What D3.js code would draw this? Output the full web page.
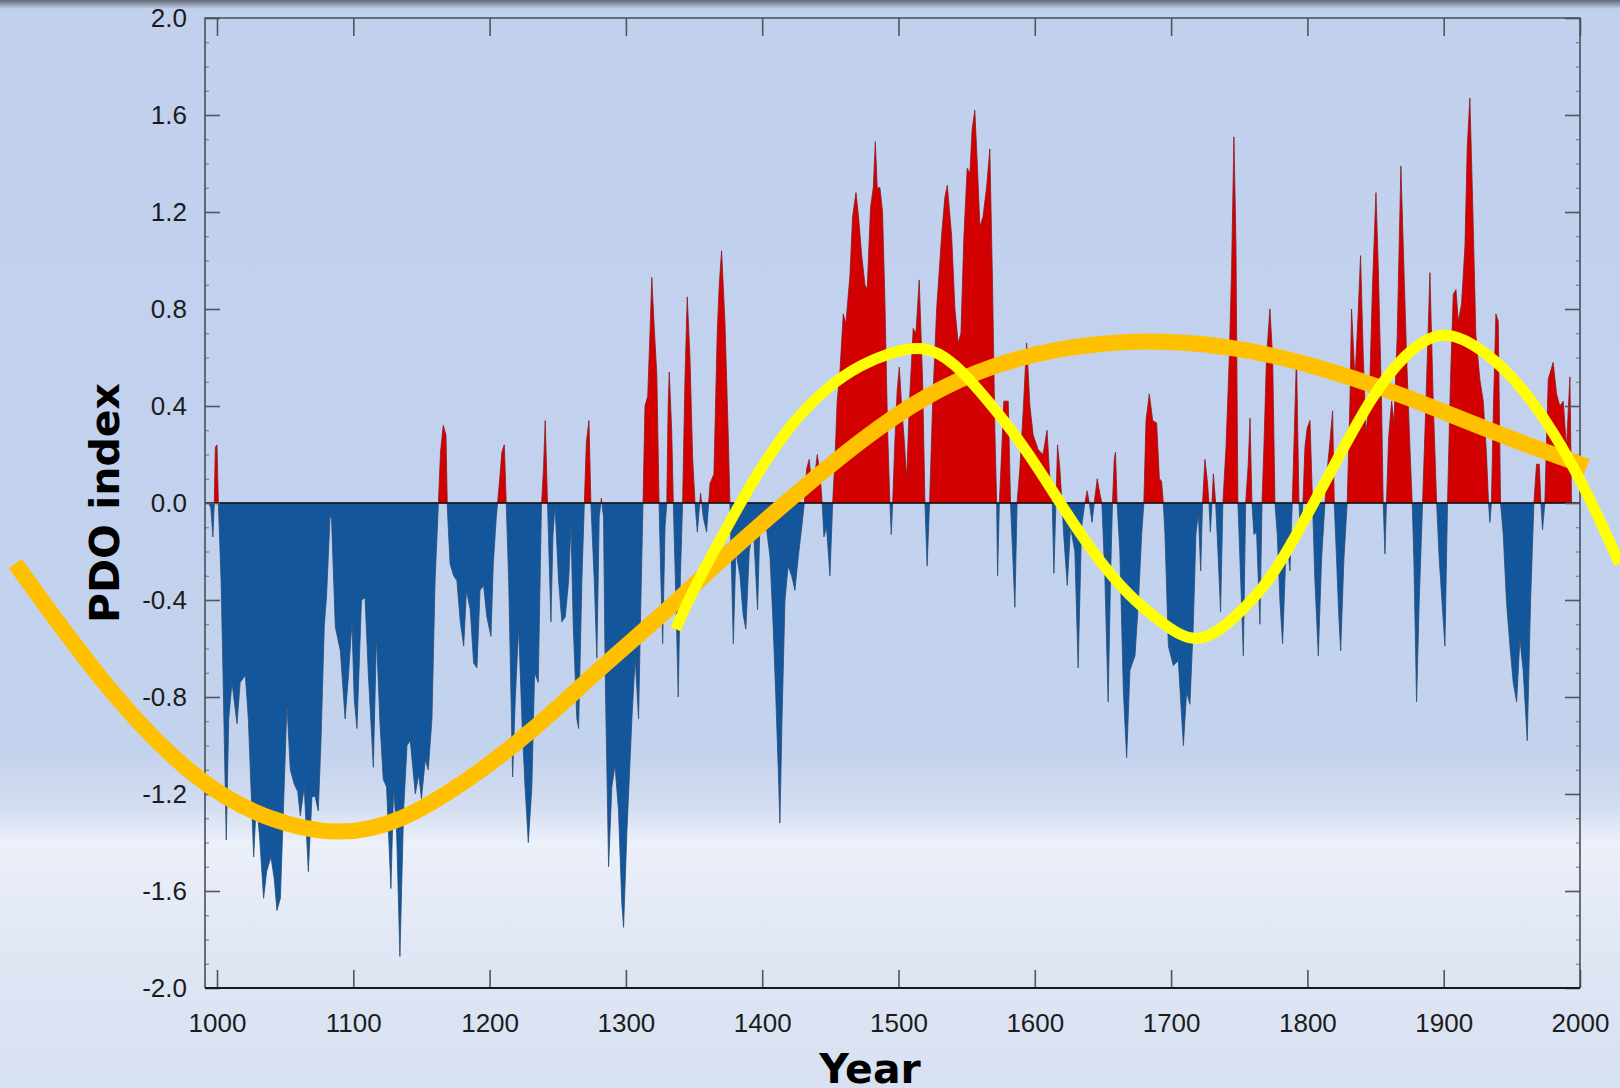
<!DOCTYPE html>
<html>
<head>
<meta charset="utf-8">
<script src="https://cdnjs.cloudflare.com/ajax/libs/d3/7.8.5/d3.min.js"></script>
<style>
body { margin: 0; background: #c2d1ed; }
svg { display: block; }
</style>
</head>
<body>
<div id="chart"></div>
<script>
// PDO reconstruction (year, index)
var years = [
  994, 995.5, 997, 998, 998.8, 1000, 1001, 1003, 1004.4, 1006.8, 1008.6, 1011, 1014.7, 1017, 1020.8,
  1023, 1026.9, 1028.9, 1031.3, 1034.2, 1036.4, 1039.6, 1042, 1044, 1046.5, 1048.7, 1051.3, 1053.8,
  1056.7, 1059.2, 1061.1, 1064, 1067, 1069.7, 1072, 1074.3, 1076.3, 1078.7, 1080.4, 1082.9, 1084,
  1086.8, 1090.5, 1094, 1096.6, 1099, 1100.7, 1102.7, 1106, 1108.6, 1111, 1114.7, 1117, 1119.6, 1122,
  1124.4, 1127.6, 1129.6, 1131.8, 1134.2, 1136.9, 1139.4, 1141.8, 1145.5, 1148, 1150, 1152.8, 1155,
  1157.7, 1160, 1162.3, 1164, 1166, 1168, 1169, 1171, 1173.6, 1176, 1178.5, 1181, 1183, 1185.8, 1188.3,
  1190.7, 1193, 1195.6, 1198, 1201, 1202.7, 1204.9, 1207.3, 1209, 1210.8, 1212.2, 1214, 1216.9, 1218.8,
  1221.3, 1223.7, 1226, 1228.4, 1231, 1233, 1235.7, 1238, 1239.6, 1240.8, 1242.5, 1245, 1246.5, 1248,
  1250.6, 1253, 1255.5, 1258, 1259.7, 1261.4, 1264, 1265.3, 1267.7, 1269.4, 1271, 1272.9, 1274.3,
  1276.8, 1278.7, 1280.4, 1282, 1283.6, 1284.8, 1287.3, 1289.7, 1292, 1294.6, 1297, 1298.3, 1300.7,
  1304.4, 1306.8, 1309.3, 1311, 1312.5, 1314, 1316, 1317.8, 1319, 1320.8, 1322.7, 1324.4, 1325.6,
  1327, 1328.7, 1330, 1331, 1331.8, 1333.6, 1334.8, 1336.7, 1338.4, 1340, 1341.6, 1343.3, 1345, 1347,
  1349, 1350.7, 1352.4, 1354.8, 1356.8, 1359.2, 1360.7, 1361.7, 1364.6, 1367, 1368.5, 1370.2, 1372.7,
  1375, 1376.3, 1377.6, 1378.8, 1380.7, 1383.7, 1386, 1388, 1390.5, 1393.5, 1396.6, 1398.3, 1400.8,
  1403, 1405.7, 1408, 1410, 1411.8, 1413, 1414.5, 1416.7, 1419, 1421.6, 1424, 1426.5, 1429, 1430.9,
  1432.6, 1434.5, 1436.5, 1438.7, 1440.4, 1442.4, 1444, 1445.3, 1447.2, 1449.7, 1451.7, 1453.4, 1455,
  1457, 1459.5, 1461.4, 1464.4, 1466.3, 1468.8, 1470.7, 1473, 1475.4, 1477, 1479.5, 1481.5, 1483,
  1484.4, 1486.4, 1488.3, 1490, 1492, 1493.7, 1494.7, 1495.7, 1497.4, 1499, 1500.6, 1502.3, 1504.2,
  1506, 1507.9, 1510.8, 1512.8, 1515.2, 1517.7, 1519.4, 1521, 1522.8, 1525, 1528, 1531.6, 1534,
  1535.8, 1539, 1541.4, 1543.8, 1545.8, 1548, 1550.4, 1552.4, 1554, 1556, 1557.8, 1559.7, 1562, 1564.6,
  1567, 1569, 1570.7, 1572, 1572.7, 1574, 1575.6, 1577.3, 1580.5, 1582.2, 1583.7, 1585.4, 1587, 1589,
  1591.5, 1594, 1596.4, 1598.8, 1602.5, 1606, 1609, 1611, 1612.8, 1614, 1615.5, 1616.7, 1618.4, 1619.9,
  1621.3, 1623.8, 1626.2, 1629.4, 1631.8, 1634.3, 1636.7, 1638.4, 1640, 1642, 1643.6, 1645.8, 1647.7,
  1649.2, 1651.4, 1653.8, 1655.6, 1657, 1658.3, 1659.2, 1660.4, 1662.4, 1665, 1667.4, 1669.8, 1673.5,
  1676, 1678.4, 1680, 1681.6, 1684, 1686.5, 1689.4, 1691.4, 1693, 1694.3, 1695.5, 1698, 1701.6, 1705.3,
  1709, 1711.4, 1713.8, 1716.3, 1718.2, 1720, 1721.7, 1723.1, 1724.8, 1726.6, 1727.8, 1728.8, 1730,
  1731, 1732.7, 1734.6, 1736.3, 1738, 1740.3, 1742.7, 1744.4, 1746.1, 1747.6, 1749, 1750.5, 1753,
  1754.7, 1756.6, 1757.9, 1759.3, 1760.8, 1762.7, 1765.2, 1766.7, 1768.1, 1770, 1772.5, 1774.5, 1776.2,
  1777.9, 1779.9, 1781.8, 1784.7, 1787.2, 1788.9, 1790.6, 1792, 1793.8, 1795, 1796.7, 1798.2, 1799.9,
  1801.9, 1803.8, 1805.5, 1808, 1810.4, 1812.9, 1814.6, 1816.5, 1818.5, 1819.7, 1821.4, 1822.9, 1824.4,
  1826.8, 1829.2, 1831.2, 1832.4, 1834.9, 1837.3, 1839, 1841, 1843, 1845.4, 1847.8, 1850.3, 1852,
  1854.4, 1855.6, 1856.9, 1858, 1859.6, 1861.8, 1863.5, 1865.9, 1868.6, 1870.8, 1872.8, 1875.2, 1876.9,
  1878.1, 1880.1, 1882, 1884.5, 1887, 1889.9, 1892.3, 1894.8, 1896.7, 1900.9, 1902.8, 1905, 1907, 1909,
  1910.7, 1913.1, 1915.6, 1917.3, 1919.2, 1921.2, 1923.6, 1926.5, 1929, 1931.4, 1932.9, 1933.9, 1935,
  1936.6, 1938.3, 1940, 1941.7, 1943.7, 1946.1, 1948.6, 1951, 1953.5, 1955.9, 1958.3, 1961.3, 1963.7,
  1966.2, 1968.1, 1970.1, 1971.3, 1972.5, 1974.2, 1976.7, 1980.3, 1982.8, 1985.2, 1987.7, 1990.1,
  1992.6, 1993.8
];
var pdo = [
  0, -0.02, -0.14, 0, 0.23, 0.24, 0, -0.32, -0.70, -1.39, -0.89, -0.74, -0.91, -0.74, -0.71,
  -0.89, -1.46, -1.23, -1.38, -1.63, -1.52, -1.46, -1.55, -1.68, -1.63, -1.27, -0.83, -1.10,
  -1.16, -1.19, -1.29, -1.17, -1.52, -1.21, -1.21, -1.27, -0.98, -0.51, -0.38, -0.06, -0.06,
  -0.51, -0.61, -0.89, -0.70, -0.49, -0.81, -0.93, -0.40, -0.39, -0.70, -1.09, -0.55, -0.91, -1.14,
  -1.17, -1.59, -1.17, -1.36, -1.87, -1.27, -1.00, -0.98, -1.20, -1.12, -1.22, -1.06, -1.10,
  -0.89, -0.32, -0.02, 0.21, 0.32, 0.28, -0.02, -0.25, -0.30, -0.32, -0.49, -0.59, -0.36, -0.44, -0.66,
  -0.68, -0.36, -0.34, -0.47, -0.55, -0.25, -0.06, 0.09, 0.21, 0.24, 0, -0.32, -1.13, -0.81,
  -0.51, -0.89, -1.17, -1.40, -1.17, -0.70, -0.74, -0.02, 0.15, 0.34, 0, -0.49, -0.13, -0.01,
  -0.32, -0.49, -0.47, -0.32, -0.09, -0.51, -0.89, -0.93, -0.32, -0.02, 0.25, 0.34, 0,
  -0.32, -0.64, -0.06, 0.02, -0.06, -0.70, -1.50, -1.17, -1.08, -1.27, -1.65, -1.75, -1.36,
  -0.89, -0.64, -0.89, -0.40, -0.02, 0.40, 0.44, 0.72, 0.93, 0.72, 0.53, -0.02, -0.30,
  -0.58, -0.10, 0, 0.40, 0.54, 0.30, 0, -0.40, -0.80, -0.30, 0, 0.50, 0.85, 0.60,
  0.18, 0, -0.12, 0.04, -0.06, -0.12, 0, 0.08, 0.12, 0.70, 0.90, 1.04, 0.74,
  0.30, 0, -0.30, -0.58, -0.20, -0.30, -0.46, -0.52, -0.20, -0.10, -0.44, -0.10, -0.04,
  -0.10, -0.22, -0.50, -0.80, -1.10, -1.32, -0.90, -0.40, -0.26, -0.30, -0.36, -0.22, -0.10, 0,
  0.14, 0.18, 0.06, 0.12, 0.20, 0.12, 0, -0.14, -0.10, -0.30, 0, 0.18, 0.42,
  0.54, 0.78, 0.74, 0.94, 1.18, 1.28, 1.18, 1.02, 0.90, 0.88, 1.22, 1.30, 1.49,
  1.30, 1.30, 1.20, 0.84, 0.30, 0, -0.13, 0, 0.26, 0.46, 0.56, 0.40, 0.26,
  0.10, 0.40, 0.72, 0.70, 0.92, 0.50, 0, -0.26, 0, 0.40, 0.80, 1.10, 1.26,
  1.31, 1.10, 0.80, 0.66, 0.70, 1.10, 1.38, 1.36, 1.54, 1.62, 1.40, 1.14, 1.18, 1.30,
  1.46, 0.90, 0.30, 0, -0.30, 0, 0.20, 0.42, 0.42, 0, -0.20, -0.43, 0, 0.14,
  0.38, 0.66, 0.40, 0.28, 0.22, 0.20, 0.30, 0.10, 0, -0.29, 0, 0.24, 0.14, 0,
  -0.14, -0.34, -0.10, -0.20, -0.68, -0.10, 0, 0.05, 0, -0.08, 0, 0.10, 0.04,
  0, -0.30, -0.82, -0.30, 0, 0.18, 0.21, 0, -0.20, -0.78, -1.05, -0.69, -0.63,
  -0.41, -0.13, 0, 0.34, 0.45, 0.34, 0.33, 0.10, 0.09, 0, -0.13, -0.59, -0.67, -0.65,
  -1.00, -0.78, -0.83, -0.50, -0.13, -0.04, -0.28, 0, 0.18, 0.09, 0, -0.12, 0,
  0.12, 0, -0.23, -0.45, 0, 0.23, 0.60, 0.97, 1.51, 1.06, 0, -0.23, -0.63,
  0, 0.16, 0.35, 0, -0.13, -0.12, -0.50, 0, 0.23, 0.60, 0.80, 0.60, 0,
  -0.13, -0.41, -0.58, -0.13, -0.28, 0, 0.33, 0.61, 0, -0.13, 0, 0.23, 0.31,
  0.34, 0, -0.32, -0.63, -0.23, 0, 0.14, 0.25, 0.38, 0, -0.23, -0.45, -0.61,
  -0.23, 0, 0.42, 0.80, 0.51, 0.79, 1.02, 0.60, 0.29, 0.42, 0.90, 1.28, 0.97,
  0.42, 0, -0.21, 0, 0.27, 0.42, 0.33, 0.69, 1.39, 0.97, 0.60, 0.23, 0,
  -0.23, -0.82, -0.41, 0, 0.42, 0.95, 0.42, 0, -0.23, -0.59, 0, 0.51, 0.86, 0.88,
  0.75, 0.82, 1.06, 1.47, 1.67, 1.25, 0.69, 0.51, 0.42, 0.20, 0, -0.08, 0,
  0.42, 0.78, 0.75, 0, -0.13, -0.41, -0.59, -0.74, -0.82, -0.56, -0.69, -0.98, -0.41,
  0, 0.16, 0.16, 0, -0.11, 0, 0.51, 0.58, 0.45, 0.40, 0.42, 0.23,
  0.52, 0
];

// hand-drawn overlay curves (year, index), they run past the frame
var trendYears = [852, 924, 987, 1037, 1090, 1134, 1183, 1232, 1281, 1325, 1374, 1423,
  1472, 1521, 1569, 1618, 1670, 1712, 1760, 1809, 1858, 1907, 1956, 2005];
var trendValues = [-0.25, -0.81, -1.16, -1.31, -1.375, -1.32, -1.15, -0.94, -0.68, -0.47,
  -0.21, 0.03, 0.26, 0.45, 0.57, 0.64, 0.67, 0.665, 0.63, 0.56, 0.47, 0.36, 0.25, 0.15];
var cycleYears = [1336.5, 1349, 1374, 1398, 1423, 1448, 1472, 1496, 1518, 1540, 1569, 1594, 1618.5,
  1643, 1670, 1690, 1719, 1748, 1773, 1797, 1822, 1846, 1870, 1899.5, 1932, 1956, 1980, 2005, 2029];
var cycleValues = [-0.52, -0.36, -0.10, 0.14, 0.34, 0.48, 0.57, 0.625, 0.65, 0.59, 0.40, 0.22, 0.0,
  -0.21, -0.39, -0.48, -0.60, -0.47, -0.32, -0.08, 0.18, 0.43, 0.61, 0.73, 0.62, 0.49, 0.30, 0.05, -0.25];

var yearTicks = [1000, 1100, 1200, 1300, 1400, 1500, 1600, 1700, 1800, 1900, 2000];
var indexTicks = [2.0, 1.6, 1.2, 0.8, 0.4, 0.0, -0.4, -0.8, -1.2, -1.6, -2.0];
var indexMinor = d3.range(-20, 21).map(function (i) { return i / 10; });

var W = 1620, H = 1088;
var plotL = 205, plotR = 1580, plotT = 18, plotB = 988;

var x = d3.scaleLinear().domain([991.2, 2000]).range([plotL, plotR]);
var y = d3.scaleLinear().domain([-2, 2]).range([plotB, plotT]);

var svg = d3.select("#chart").append("svg")
    .attr("width", W)
    .attr("height", H);

var defs = svg.append("defs");

var bg = defs.append("linearGradient")
    .attr("id", "bg")
    .attr("gradientUnits", "userSpaceOnUse")
    .attr("x1", 0).attr("y1", 0).attr("x2", 0).attr("y2", H);
[[0, "#c1d0ed"], [0.69, "#c3d2ed"], [0.74, "#d3ddf1"], [0.775, "#ebf0f9"],
 [0.80, "#e8edf8"], [0.88, "#dfe6f4"], [1, "#d8e1f2"]].forEach(function (s) {
    bg.append("stop").attr("offset", s[0]).attr("stop-color", s[1]);
});

var shade = defs.append("linearGradient")
    .attr("id", "shade")
    .attr("x1", 0).attr("y1", 0).attr("x2", 0).attr("y2", 1);
shade.append("stop").attr("offset", 0).attr("stop-color", "#5d6472").attr("stop-opacity", 0.95);
shade.append("stop").attr("offset", 1).attr("stop-color", "#5d6472").attr("stop-opacity", 0);

defs.append("clipPath").attr("id", "above")
    .append("rect")
    .attr("x", plotL).attr("y", plotT)
    .attr("width", plotR - plotL).attr("height", y(0) - plotT);
defs.append("clipPath").attr("id", "below")
    .append("rect")
    .attr("x", plotL).attr("y", y(0))
    .attr("width", plotR - plotL).attr("height", plotB - y(0));

svg.append("rect")
    .attr("width", W).attr("height", H)
    .attr("fill", "url(#bg)");
svg.append("rect")
    .attr("width", W).attr("height", 9)
    .attr("fill", "url(#shade)");

var series = years.map(function (yr, i) { return {year: yr, value: pdo[i]}; });

var area = d3.area()
    .x(function (d) { return x(d.year); })
    .y0(y(0))
    .y1(function (d) { return y(d.value); });

svg.append("path")
    .datum(series)
    .attr("clip-path", "url(#above)")
    .attr("d", area)
    .attr("fill", "#d20000")
    .attr("stroke", "#8c1a22")
    .attr("stroke-width", 0.8);

svg.append("path")
    .datum(series)
    .attr("clip-path", "url(#below)")
    .attr("d", area)
    .attr("fill", "#13569b")
    .attr("stroke", "#2a4c74")
    .attr("stroke-width", 0.8);

// zero line
svg.append("line")
    .attr("x1", plotL).attr("x2", plotR)
    .attr("y1", y(0)).attr("y2", y(0))
    .attr("stroke", "#111")
    .attr("stroke-width", 1.6);

// axes: ticks point inward on all four sides
var tickFont = "'Liberation Sans', Arial, Helvetica, sans-serif";

var gx = svg.append("g")
    .attr("transform", "translate(0," + plotB + ")")
    .call(d3.axisBottom(x).tickValues(yearTicks).tickSizeInner(-18).tickSizeOuter(0)
        .tickPadding(26).tickFormat(d3.format("d")));
var gxt = svg.append("g")
    .attr("transform", "translate(0," + plotT + ")")
    .call(d3.axisTop(x).tickValues(yearTicks).tickSizeInner(-18).tickSizeOuter(0).tickFormat(""));
var gyMinor = svg.append("g")
    .attr("transform", "translate(" + plotL + ",0)")
    .call(d3.axisLeft(y).tickValues(indexMinor).tickSizeInner(-4).tickSizeOuter(0).tickFormat(""));
var gyMinorR = svg.append("g")
    .attr("transform", "translate(" + plotR + ",0)")
    .call(d3.axisRight(y).tickValues(indexMinor).tickSizeInner(-4).tickSizeOuter(0).tickFormat(""));
var gy = svg.append("g")
    .attr("transform", "translate(" + plotL + ",0)")
    .call(d3.axisLeft(y).tickValues(indexTicks).tickSizeInner(-15).tickSizeOuter(0)
        .tickPadding(18).tickFormat(d3.format(".1f")));
var gyr = svg.append("g")
    .attr("transform", "translate(" + plotR + ",0)")
    .call(d3.axisRight(y).tickValues(indexTicks).tickSizeInner(-15).tickSizeOuter(0).tickFormat(""));

[gx, gxt, gy, gyr, gyMinor, gyMinorR].forEach(function (g) {
    g.select(".domain").remove();
    g.selectAll(".tick line").attr("stroke", "#505560").attr("stroke-width", 1.6);
});
[gyMinor, gyMinorR].forEach(function (g) {
    g.selectAll(".tick line").attr("stroke", "#6a707c").attr("stroke-width", 1);
});

[gx, gy].forEach(function (g) {
    g.selectAll(".tick text")
        .attr("fill", "#1c1c1c")
        .style("font-family", tickFont)
        .style("font-size", "26px");
});
gy.selectAll(".tick text").text(function (d) { return d3.format(".1f")(d).replace("−", "-"); });

// frame
svg.append("path")
    .attr("d", "M" + plotL + "," + plotB + "V" + plotT + "H" + plotR + "V" + plotB)
    .attr("fill", "none")
    .attr("stroke", "#4a4f58")
    .attr("stroke-width", 1.6);
svg.append("line")
    .attr("x1", plotL).attr("x2", plotR)
    .attr("y1", plotB).attr("y2", plotB)
    .attr("stroke", "#1a1a1a")
    .attr("stroke-width", 2);

// axis titles
svg.append("text")
    .attr("transform", "translate(119," + y(0) + ") rotate(-90)")
    .attr("text-anchor", "middle")
    .style("font-family", "'DejaVu Sans', Verdana, sans-serif")
    .style("font-weight", "bold")
    .style("font-size", "41px")
    .attr("fill", "#000")
    .text("PDO index");

svg.append("text")
    .attr("x", 870)
    .attr("y", 1083)
    .attr("text-anchor", "middle")
    .style("font-family", "'DejaVu Sans', Verdana, sans-serif")
    .style("font-weight", "bold")
    .style("font-size", "41px")
    .attr("fill", "#000")
    .text("Year");

// overlay curves
var curve = d3.line()
    .x(function (d) { return x(d[0]); })
    .y(function (d) { return y(d[1]); })
    .curve(d3.curveBasis);

svg.append("path")
    .datum(trendYears.map(function (yr, i) { return [yr, trendValues[i]]; }))
    .attr("d", curve)
    .attr("fill", "none")
    .attr("stroke", "#ffc000")
    .attr("stroke-width", 16)
    .attr("stroke-linecap", "butt");

svg.append("path")
    .datum(cycleYears.map(function (yr, i) { return [yr, cycleValues[i]]; }))
    .attr("d", curve)
    .attr("fill", "none")
    .attr("stroke", "#ffff00")
    .attr("stroke-width", 11)
    .attr("stroke-linecap", "butt");
</script>
</body>
</html>
